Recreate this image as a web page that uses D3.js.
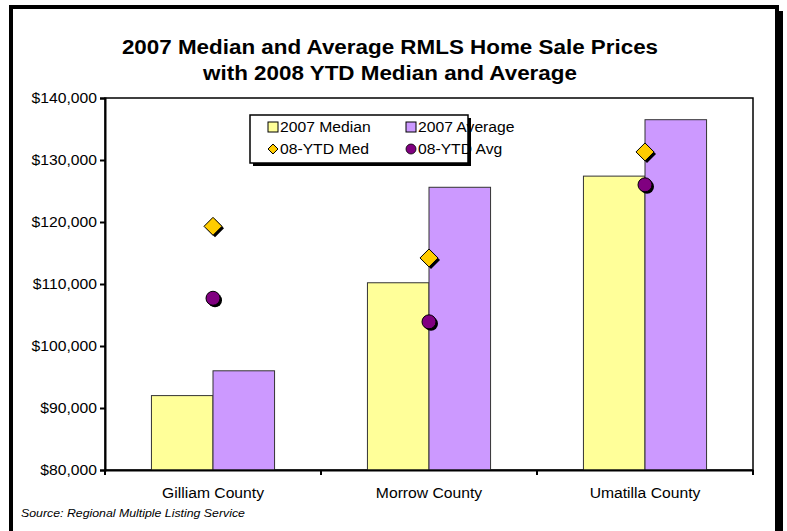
<!DOCTYPE html>
<html><head><meta charset="utf-8">
<script src="https://cdn.jsdelivr.net/npm/d3@7"></script>
<style>body{margin:0;background:#fff}svg{display:block;font-family:"Liberation Sans",Arial,sans-serif}</style>
</head><body>
<svg id="c" width="787" height="531"></svg>
<script>
const categories = ["Gilliam County", "Morrow County", "Umatilla County"];
const median2007 = [92000, 110200, 127400];
const average2007 = [96000, 125600, 136500];
const ytdMedian08 = [119300, 114200, 131300];
const ytdAverage08 = [107700, 103900, 126000];
const yTicks = [80000, 90000, 100000, 110000, 120000, 130000, 140000];
const titleLines = ["2007 Median and Average RMLS Home Sale Prices", "with 2008 YTD Median and Average"];
const legendItems = ["2007 Median", "2007 Average", "08-YTD Med", "08-YTD Avg"];

const svg = d3.select("#c");
const L = 105, R = 753, T = 98, B = 470;
const x = d3.scaleBand().domain(categories).range([L, R]);
const y = d3.scaleLinear().domain([80000, 140000]).range([B, T]);
const fmt = d => "$" + d3.format(",")(d);
function stretch(sel, f) {
  sel.each(function () {
    const w = this.getComputedTextLength();
    d3.select(this).attr("textLength", w * f).attr("lengthAdjust", "spacingAndGlyphs");
  });
}

// outer frame with shadow
svg.append("rect").attr("x", 15).attr("y", 11).attr("width", 768).attr("height", 540).attr("fill", "#000");
svg.append("rect").attr("x", 11).attr("y", 7).attr("width", 766).attr("height", 540).attr("fill", "#fff").attr("stroke", "#000").attr("stroke-width", 4);

// title
svg.append("g").selectAll("text").data(titleLines).join("text")
  .attr("x", 390).attr("y", (d, i) => 54 + i * 26).attr("text-anchor", "middle")
  .attr("font-weight", "bold").style("font-size", "20px").text(d => d)
  .call(stretch, 1.12);

// plot border
svg.append("rect").attr("x", L).attr("y", T).attr("width", R - L).attr("height", B - T)
  .attr("fill", "none").attr("stroke", "#000").attr("stroke-width", 1.5);

// bars
const bw = x.bandwidth() * 0.285;
const bars = svg.append("g");
bars.selectAll(".m").data(categories).join("rect")
  .attr("x", d => x(d) + x.bandwidth() / 2 - bw).attr("width", bw)
  .attr("y", (d, i) => y(median2007[i])).attr("height", (d, i) => B - y(median2007[i]))
  .attr("fill", "#FFFF99").attr("stroke", "#333").attr("stroke-width", 1);
bars.selectAll(".a").data(categories).join("rect")
  .attr("x", d => x(d) + x.bandwidth() / 2).attr("width", bw)
  .attr("y", (d, i) => y(average2007[i])).attr("height", (d, i) => B - y(average2007[i]))
  .attr("fill", "#CC99FF").attr("stroke", "#333").attr("stroke-width", 1);

// axes
const ya = svg.append("g").attr("transform", `translate(${L},0)`)
  .call(d3.axisLeft(y).tickValues(yTicks).tickFormat(fmt).tickSize(5).tickPadding(3));
ya.select(".domain").attr("stroke-width", 2);
ya.selectAll(".tick line").attr("stroke-width", 2);
ya.selectAll("text").style("font-size", "14px").attr("fill", "#000").style("font-family", "Liberation Sans, Arial, sans-serif")
  .call(stretch, 1.12);

const xa = svg.append("g").attr("transform", `translate(0,${B})`)
  .call(d3.axisBottom(x).tickSize(0).tickPadding(18));
xa.select(".domain").attr("stroke-width", 2);
xa.selectAll("text").style("font-size", "14px").attr("fill", "#000").style("font-family", "Liberation Sans, Arial, sans-serif")
  .call(stretch, 1.12);
svg.append("g").selectAll("line").data(categories.concat(["_end"])).join("line")
  .attr("x1", (d, i) => i < categories.length ? x(d) : R).attr("x2", (d, i) => i < categories.length ? x(d) : R)
  .attr("y1", B).attr("y2", B + 5).attr("stroke", "#000").attr("stroke-width", 2);

// markers
const mk = svg.append("g");
const cx = d => x(d) + x.bandwidth() / 2;
const dpath = "M0,-9L9,0L0,9L-9,0Z";
mk.selectAll(".ds").data(categories).join("path")
  .attr("d", dpath)
  .attr("transform", (d, i) => `translate(${cx(d) + 2},${y(ytdMedian08[i]) + 2})`).attr("fill", "#000");
mk.selectAll(".d").data(categories).join("path")
  .attr("d", dpath)
  .attr("transform", (d, i) => `translate(${cx(d)},${y(ytdMedian08[i])})`)
  .attr("fill", "#FFCC00").attr("stroke", "#000").attr("stroke-width", 1);
mk.selectAll(".cs").data(categories).join("circle")
  .attr("cx", d => cx(d) + 2).attr("cy", (d, i) => y(ytdAverage08[i]) + 2).attr("r", 7).attr("fill", "#000");
mk.selectAll(".c").data(categories).join("circle")
  .attr("cx", d => cx(d)).attr("cy", (d, i) => y(ytdAverage08[i])).attr("r", 7)
  .attr("fill", "#800080").attr("stroke", "#000").attr("stroke-width", 1);

// legend
const lg = svg.append("g");
lg.append("rect").attr("x", 253).attr("y", 118).attr("width", 218).attr("height", 48).attr("fill", "#000");
lg.append("rect").attr("x", 250).attr("y", 115).attr("width", 218).attr("height", 48).attr("fill", "#fff").attr("stroke", "#000").attr("stroke-width", 1.5);
const lpos = [[273, 127], [411, 127], [273, 149], [411, 149]];
legendItems.forEach((t, i) => {
  const [lx, ly] = lpos[i];
  if (i < 2) {
    lg.append("rect").attr("x", lx - 5).attr("y", ly - 5).attr("width", 10).attr("height", 10)
      .attr("fill", i === 0 ? "#FFFF99" : "#CC99FF").attr("stroke", "#000").attr("stroke-width", 1);
  } else if (i === 2) {
    lg.append("path").attr("d", "M0,-5L5,0L0,5L-5,0Z").attr("transform", `translate(${lx},${ly})`)
      .attr("fill", "#FFCC00").attr("stroke", "#000").attr("stroke-width", 1);
  } else {
    lg.append("circle").attr("cx", lx).attr("cy", ly).attr("r", 5).attr("fill", "#800080").attr("stroke", "#000").attr("stroke-width", 0.8);
  }
  lg.append("text").attr("x", lx + 7).attr("y", ly + 5).style("font-size", "14px").text(t).call(stretch, 1.12);
});

// source
svg.append("text").attr("x", 21).attr("y", 517).style("font-size", "11px").attr("font-style", "italic")
  .text("Source: Regional Multiple Listing Service").call(stretch, 1.12);
</script>
</body></html>
